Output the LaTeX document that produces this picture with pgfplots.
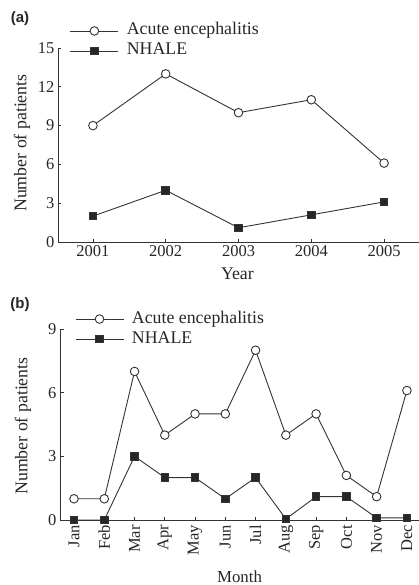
\documentclass[border=0pt]{standalone}
\usepackage{graphicx}
\usepackage{pgfplots}
\pgfplotsset{compat=1.18}
\usepackage{fontspec}
\setmainfont{Liberation Serif}
\newfontfamily\labfont{Liberation Sans}
\definecolor{ink}{rgb}{0.2,0.2,0.2}
\definecolor{txt}{rgb}{0.15,0.15,0.15}
\newcommand{\fs}{\fontsize{16.5}{19}\selectfont}
\newcommand{\fl}{\fontsize{17.8}{21}\selectfont}
\newcommand{\rl}[1]{\rotatebox{90}{#1}}
\pgfplotsset{
  common/.style={
    scale only axis,
    axis lines*=left,
    axis line style={ink, line width=0.9pt},
    tick style={ink, line width=0.7pt},
    major tick length=3.5pt,
    tick align=inside,
    ticklabel style={font=\fs, text=txt},
    label style={font=\fl, text=txt},
    /pgf/number format/assume math mode=true,
    every axis plot/.append style={ink, line width=0.9pt},
    legend cell align=left,
    legend image code/.code={
      \draw[mark repeat=2,mark phase=2,##1] plot coordinates {(0pt,0pt) (24pt,0pt) (48pt,0pt)};
    },
  },
  acute/.style={mark=*, mark size=4.3pt, mark options={fill=white, draw=ink, line width=0.9pt}},
  nhale/.style={mark=square*, mark size=3.8pt, mark options={fill=black!85, draw=ink}},
}
\begin{document}
\begin{tikzpicture}
\useasboundingbox (0pt,0pt) rectangle (419pt,-585pt);
% panel (a)
\node[font=\labfont\bfseries\fontsize{15}{18}\selectfont, text=txt] at (20pt,-19pt) {(a)};
\begin{axis}[common,
  at={(58pt,-242pt)}, anchor=south west,
  width=361pt, height=194pt,
  xmin=2000.52, xmax=2005.48, ymin=0, ymax=15,
  xtick={2001,2002,2003,2004,2005},
  xticklabels={2001,2002,2003,2004,2005},
  ytick={0,3,6,9,12,15},
  xlabel={Year},
  xlabel style={at={(axis description cs:0.497,-0.165)}, anchor=center},
  ylabel={Number of patients},
  ylabel style={at={(axis description cs:-0.0997,0.51)}, anchor=center},
  legend style={at={(axis description cs:0.0332,1.129)}, anchor=north west, draw=none, fill=none,
    inner sep=0pt, outer sep=0pt, row sep=4pt, column sep=8pt,
    nodes={inner sep=0pt, text height=12pt, text depth=4pt, font=\fl, text=txt}},
]
\addplot[acute] coordinates {(2001,9) (2002,13) (2003,10) (2004,11) (2005,6.1)};
\addlegendentry{Acute encephalitis}
\addplot[nhale] coordinates {(2001,2) (2002,4) (2003,1.1) (2004,2.1) (2005,3.1)};
\addlegendentry{NHALE}
\end{axis}
% panel (b)
\node[font=\labfont\bfseries\fontsize{15}{18}\selectfont, text=txt] at (20pt,-305pt) {(b)};
\begin{axis}[common,
  at={(60pt,-520pt)}, anchor=south west,
  width=359pt, height=191pt,
  xmin=0.537, xmax=12.4, ymin=0, ymax=9,
  xtick={1,...,12},
  xticklabels={\rl{Jan},\rl{Feb},\rl{Mar},\rl{Apr},\rl{May},\rl{Jun},\rl{Jul},\rl{Aug},\rl{Sep},\rl{Oct},\rl{Nov},\rl{Dec}},
  xticklabel style={anchor=north, inner sep=5pt},
  ytick={0,3,6,9},
  xlabel={Month},
  xlabel style={at={(axis description cs:0.5,-0.296)}, anchor=center, inner sep=0pt, font=\fontsize{16.8}{19}\selectfont},
  ylabel={Number of patients},
  ylabel style={at={(axis description cs:-0.103,0.492)}, anchor=center},
  legend style={at={(axis description cs:0.042,1.094)}, anchor=north west, draw=none, fill=none,
    inner sep=0pt, outer sep=0pt, row sep=4pt, column sep=8pt,
    nodes={inner sep=0pt, text height=12pt, text depth=4pt, font=\fl, text=txt}},
]
\addplot[acute] coordinates {(1,1) (2,1) (3,7) (4,4) (5,5) (6,5) (7,8) (8,4) (9,5) (10,2.1) (11,1.1) (12,6.1)};
\addlegendentry{Acute encephalitis}
\addplot[nhale] coordinates {(1,0) (2,0) (3,3) (4,2) (5,2) (6,1) (7,2) (8,0.05) (9,1.1) (10,1.1) (11,0.1) (12,0.1)};
\addlegendentry{NHALE}
\end{axis}
\end{tikzpicture}
\end{document}
